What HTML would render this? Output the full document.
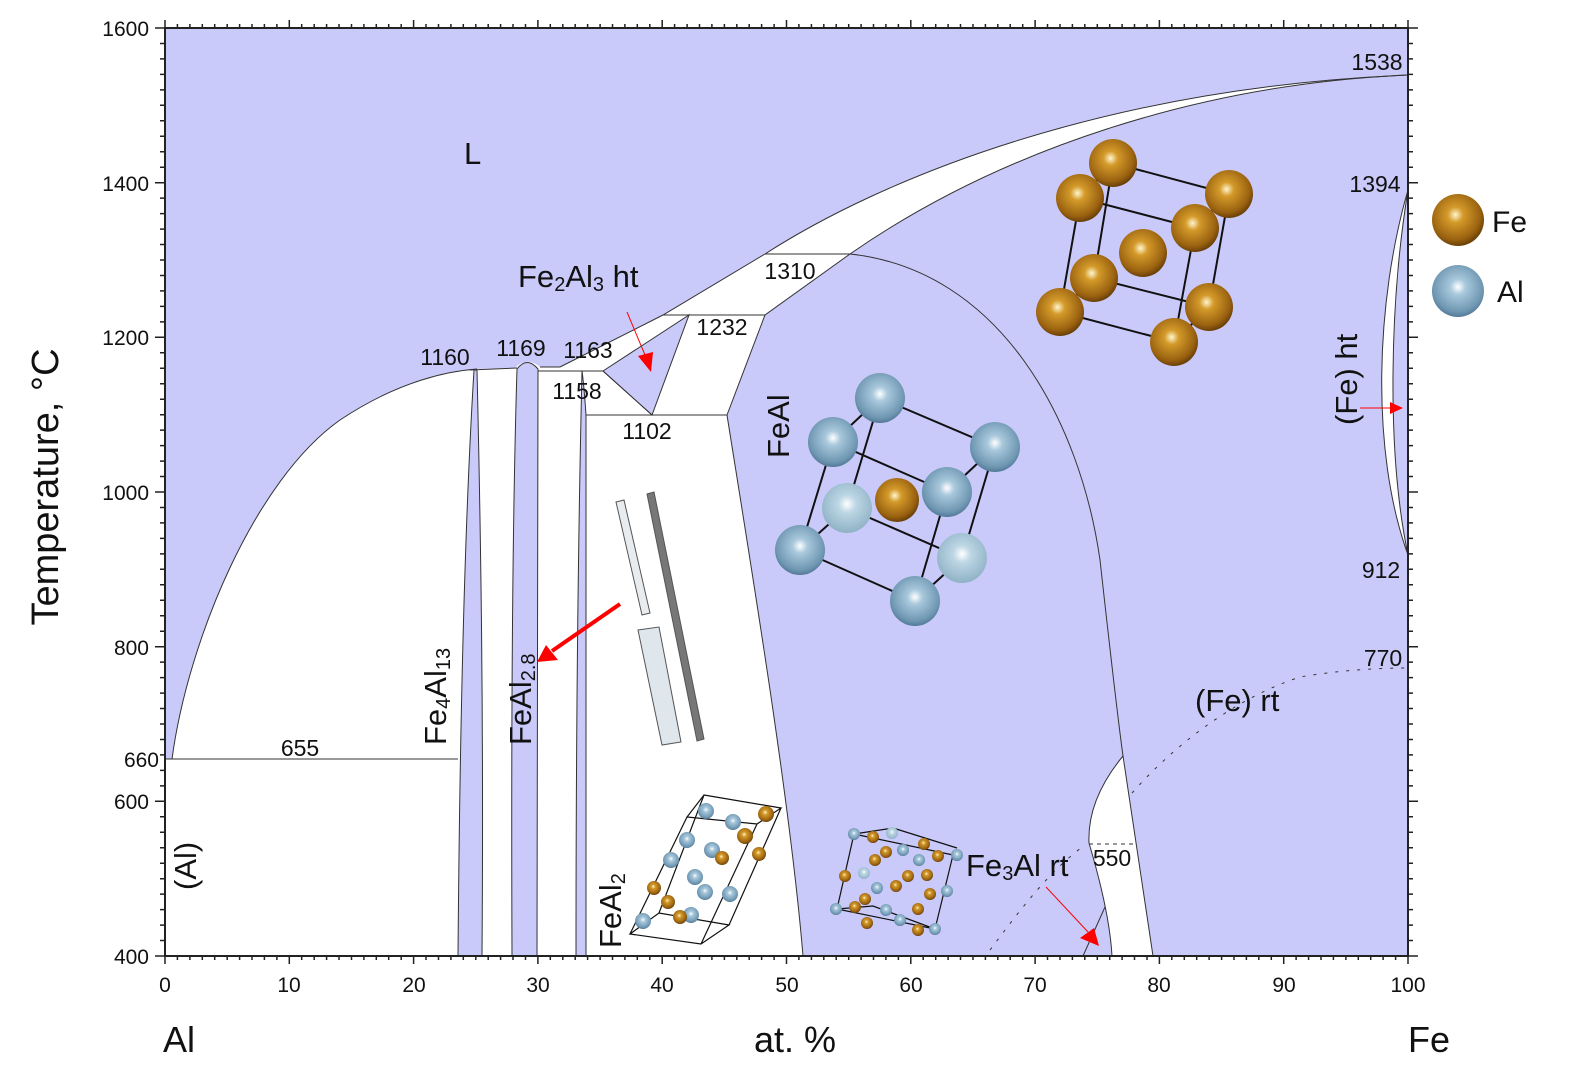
<!DOCTYPE html>
<html><head><meta charset="utf-8"><style>
html,body{margin:0;padding:0;background:#fff;}
svg{display:block;font-family:"Liberation Sans",Arial,sans-serif;}
</style></head><body>
<svg width="1576" height="1072" viewBox="0 0 1576 1072" xmlns="http://www.w3.org/2000/svg">
<defs>
<radialGradient id="fe" cx="0.45" cy="0.4" r="0.6"><stop offset="0" stop-color="#fff6d0"/><stop offset="0.25" stop-color="#d49a2a"/><stop offset="0.8" stop-color="#9a6210"/><stop offset="1" stop-color="#6a4008"/></radialGradient>
<radialGradient id="al" cx="0.5" cy="0.42" r="0.6"><stop offset="0" stop-color="#ffffff"/><stop offset="0.25" stop-color="#a8c8dc"/><stop offset="0.8" stop-color="#6f97b2"/><stop offset="1" stop-color="#4d7390"/></radialGradient>
<radialGradient id="al2" cx="0.5" cy="0.42" r="0.6"><stop offset="0" stop-color="#ffffff"/><stop offset="0.3" stop-color="#bcd6e4"/><stop offset="1" stop-color="#8db0c4"/></radialGradient>
</defs>
<rect x="165" y="28" width="1243" height="928" fill="#cacafa"/>
<path d="M172,759 C188,640 255,480 340,420 C400,380 450,371 477,369 L515,368 Q527,356 540,367 L560,367 L663,315 L765,254 C880,180 1100,88 1408,75 C1200,84 1000,150 850,254 L765,315 L727,415 C750,560 790,800 803,956 L165,956 L165,759 Z" fill="#fff"/>
<path d="M474,370 C466,500 460,700 458,956 L482,956 C484,700 480,500 477,370 Z" fill="#cacafa" stroke="#333" stroke-width="1"/>
<path d="M517,369 C513,500 511,700 512,956 L537,956 L538,369 Q527,356 517,369 Z" fill="#cacafa" stroke="#333" stroke-width="1"/>
<path d="M582,371 C579,500 576,700 576,956 L586,956 L586,415 C585,400 584,385 582,371 Z" fill="#cacafa" stroke="#333" stroke-width="1"/>
<path d="M603,371 L689,315 L652,415 Z" fill="#cacafa" stroke="#333" stroke-width="1"/>
<path d="M1123,756 C1095,790 1088,820 1089,843 C1100,880 1110,920 1112,956 L1153,956 L1123,756 Z" fill="#fff" stroke="#333" stroke-width="1"/>
<path d="M1408,190 C1376,300 1370,450 1408,555 C1386,450 1390,300 1408,190 Z" fill="#fff" stroke="#333" stroke-width="1"/>
<g fill="none" stroke="#333" stroke-width="1">
<path d="M172,759 C188,640 255,480 340,420 C400,380 450,371 477,369"/>
<path d="M560,367 L663,315 L765,254 C880,180 1100,88 1408,75"/>
<path d="M1408,75 C1200,84 1000,150 850,254 L765,315 L727,415 C750,560 790,800 803,956"/>
<path d="M850,254 C1000,270 1080,420 1100,560 C1110,650 1118,720 1123,756"/>
<path d="M165,759 L458,759"/>
<path d="M470,370 L517,368"/>
<path d="M540,367 L560,367"/>
<path d="M538,371 L603,371"/>
<path d="M663,315 L765,315"/>
<path d="M765,254 L850,254"/>
<path d="M586,415 L727,415"/>
<path d="M603,371 L652,415"/>
<path d="M1105,907 L1083,956"/>
<path d="M1089,844 L1134,844" stroke-dasharray="4,4"/>
<path d="M1132,793 C1170,750 1230,700 1300,677 C1340,670 1380,668 1408,668" stroke-dasharray="3,8"/>
<path d="M990,950 C1020,910 1050,870 1085,845" stroke-dasharray="3,8"/>
</g>
<rect x="165" y="28" width="1243" height="928" fill="none" stroke="#222" stroke-width="2"/>
<g stroke="#222" stroke-width="1.5">
<path d="M165.0,956 v8 M165.0,28 v-8 M177.4,956 v4 M177.4,28 v-4 M189.9,956 v4 M189.9,28 v-4 M202.3,956 v4 M202.3,28 v-4 M214.7,956 v4 M214.7,28 v-4 M227.2,956 v4 M227.2,28 v-4 M239.6,956 v4 M239.6,28 v-4 M252.0,956 v4 M252.0,28 v-4 M264.4,956 v4 M264.4,28 v-4 M276.9,956 v4 M276.9,28 v-4 M289.3,956 v8 M289.3,28 v-8 M301.7,956 v4 M301.7,28 v-4 M314.2,956 v4 M314.2,28 v-4 M326.6,956 v4 M326.6,28 v-4 M339.0,956 v4 M339.0,28 v-4 M351.5,956 v4 M351.5,28 v-4 M363.9,956 v4 M363.9,28 v-4 M376.3,956 v4 M376.3,28 v-4 M388.7,956 v4 M388.7,28 v-4 M401.2,956 v4 M401.2,28 v-4 M413.6,956 v8 M413.6,28 v-8 M426.0,956 v4 M426.0,28 v-4 M438.5,956 v4 M438.5,28 v-4 M450.9,956 v4 M450.9,28 v-4 M463.3,956 v4 M463.3,28 v-4 M475.8,956 v4 M475.8,28 v-4 M488.2,956 v4 M488.2,28 v-4 M500.6,956 v4 M500.6,28 v-4 M513.0,956 v4 M513.0,28 v-4 M525.5,956 v4 M525.5,28 v-4 M537.9,956 v8 M537.9,28 v-8 M550.3,956 v4 M550.3,28 v-4 M562.8,956 v4 M562.8,28 v-4 M575.2,956 v4 M575.2,28 v-4 M587.6,956 v4 M587.6,28 v-4 M600.1,956 v4 M600.1,28 v-4 M612.5,956 v4 M612.5,28 v-4 M624.9,956 v4 M624.9,28 v-4 M637.3,956 v4 M637.3,28 v-4 M649.8,956 v4 M649.8,28 v-4 M662.2,956 v8 M662.2,28 v-8 M674.6,956 v4 M674.6,28 v-4 M687.1,956 v4 M687.1,28 v-4 M699.5,956 v4 M699.5,28 v-4 M711.9,956 v4 M711.9,28 v-4 M724.4,956 v4 M724.4,28 v-4 M736.8,956 v4 M736.8,28 v-4 M749.2,956 v4 M749.2,28 v-4 M761.6,956 v4 M761.6,28 v-4 M774.1,956 v4 M774.1,28 v-4 M786.5,956 v8 M786.5,28 v-8 M798.9,956 v4 M798.9,28 v-4 M811.4,956 v4 M811.4,28 v-4 M823.8,956 v4 M823.8,28 v-4 M836.2,956 v4 M836.2,28 v-4 M848.7,956 v4 M848.7,28 v-4 M861.1,956 v4 M861.1,28 v-4 M873.5,956 v4 M873.5,28 v-4 M885.9,956 v4 M885.9,28 v-4 M898.4,956 v4 M898.4,28 v-4 M910.8,956 v8 M910.8,28 v-8 M923.2,956 v4 M923.2,28 v-4 M935.7,956 v4 M935.7,28 v-4 M948.1,956 v4 M948.1,28 v-4 M960.5,956 v4 M960.5,28 v-4 M973.0,956 v4 M973.0,28 v-4 M985.4,956 v4 M985.4,28 v-4 M997.8,956 v4 M997.8,28 v-4 M1010.2,956 v4 M1010.2,28 v-4 M1022.7,956 v4 M1022.7,28 v-4 M1035.1,956 v8 M1035.1,28 v-8 M1047.5,956 v4 M1047.5,28 v-4 M1060.0,956 v4 M1060.0,28 v-4 M1072.4,956 v4 M1072.4,28 v-4 M1084.8,956 v4 M1084.8,28 v-4 M1097.3,956 v4 M1097.3,28 v-4 M1109.7,956 v4 M1109.7,28 v-4 M1122.1,956 v4 M1122.1,28 v-4 M1134.5,956 v4 M1134.5,28 v-4 M1147.0,956 v4 M1147.0,28 v-4 M1159.4,956 v8 M1159.4,28 v-8 M1171.8,956 v4 M1171.8,28 v-4 M1184.3,956 v4 M1184.3,28 v-4 M1196.7,956 v4 M1196.7,28 v-4 M1209.1,956 v4 M1209.1,28 v-4 M1221.6,956 v4 M1221.6,28 v-4 M1234.0,956 v4 M1234.0,28 v-4 M1246.4,956 v4 M1246.4,28 v-4 M1258.8,956 v4 M1258.8,28 v-4 M1271.3,956 v4 M1271.3,28 v-4 M1283.7,956 v8 M1283.7,28 v-8 M1296.1,956 v4 M1296.1,28 v-4 M1308.6,956 v4 M1308.6,28 v-4 M1321.0,956 v4 M1321.0,28 v-4 M1333.4,956 v4 M1333.4,28 v-4 M1345.9,956 v4 M1345.9,28 v-4 M1358.3,956 v4 M1358.3,28 v-4 M1370.7,956 v4 M1370.7,28 v-4 M1383.1,956 v4 M1383.1,28 v-4 M1395.6,956 v4 M1395.6,28 v-4 M1408.0,956 v8 M1408.0,28 v-8"/>
<path d="M165,28 h-10 M1408,28 h10 M165,43.5 h-5 M1408,43.5 h5 M165,58.9 h-5 M1408,58.9 h5 M165,74.4 h-5 M1408,74.4 h5 M165,89.9 h-5 M1408,89.9 h5 M165,105.3 h-5 M1408,105.3 h5 M165,120.8 h-5 M1408,120.8 h5 M165,136.3 h-5 M1408,136.3 h5 M165,151.7 h-5 M1408,151.7 h5 M165,167.2 h-5 M1408,167.2 h5 M165,182.7 h-10 M1408,182.7 h10 M165,198.1 h-5 M1408,198.1 h5 M165,213.6 h-5 M1408,213.6 h5 M165,229.1 h-5 M1408,229.1 h5 M165,244.5 h-5 M1408,244.5 h5 M165,260 h-5 M1408,260 h5 M165,275.5 h-5 M1408,275.5 h5 M165,290.9 h-5 M1408,290.9 h5 M165,306.4 h-5 M1408,306.4 h5 M165,321.9 h-5 M1408,321.9 h5 M165,337.3 h-10 M1408,337.3 h10 M165,352.8 h-5 M1408,352.8 h5 M165,368.3 h-5 M1408,368.3 h5 M165,383.7 h-5 M1408,383.7 h5 M165,399.2 h-5 M1408,399.2 h5 M165,414.7 h-5 M1408,414.7 h5 M165,430.1 h-5 M1408,430.1 h5 M165,445.6 h-5 M1408,445.6 h5 M165,461.1 h-5 M1408,461.1 h5 M165,476.5 h-5 M1408,476.5 h5 M165,492 h-10 M1408,492 h10 M165,507.5 h-5 M1408,507.5 h5 M165,522.9 h-5 M1408,522.9 h5 M165,538.4 h-5 M1408,538.4 h5 M165,553.9 h-5 M1408,553.9 h5 M165,569.3 h-5 M1408,569.3 h5 M165,584.8 h-5 M1408,584.8 h5 M165,600.3 h-5 M1408,600.3 h5 M165,615.7 h-5 M1408,615.7 h5 M165,631.2 h-5 M1408,631.2 h5 M165,646.7 h-10 M1408,646.7 h10 M165,662.1 h-5 M1408,662.1 h5 M165,677.6 h-5 M1408,677.6 h5 M165,693.1 h-5 M1408,693.1 h5 M165,708.5 h-5 M1408,708.5 h5 M165,724 h-5 M1408,724 h5 M165,739.5 h-5 M1408,739.5 h5 M165,754.9 h-5 M1408,754.9 h5 M165,770.4 h-5 M1408,770.4 h5 M165,785.9 h-5 M1408,785.9 h5 M165,801.3 h-10 M1408,801.3 h10 M165,816.8 h-5 M1408,816.8 h5 M165,832.3 h-5 M1408,832.3 h5 M165,847.7 h-5 M1408,847.7 h5 M165,863.2 h-5 M1408,863.2 h5 M165,878.7 h-5 M1408,878.7 h5 M165,894.1 h-5 M1408,894.1 h5 M165,909.6 h-5 M1408,909.6 h5 M165,925.1 h-5 M1408,925.1 h5 M165,940.5 h-5 M1408,940.5 h5 M165,956 h-10 M1408,956 h10"/>
</g>
<g font-size="21" fill="#111" text-anchor="end">
<text x="149" y="36">1600</text><text x="149" y="191">1400</text><text x="149" y="345">1200</text>
<text x="149" y="500">1000</text><text x="149" y="655">800</text><text x="149" y="809">600</text><text x="149" y="964">400</text>
<text x="159" y="767">660</text>
</g>
<g font-size="21" fill="#111" text-anchor="middle">
<text x="165" y="992">0</text><text x="289" y="992">10</text><text x="414" y="992">20</text><text x="538" y="992">30</text>
<text x="662" y="992">40</text><text x="787" y="992">50</text><text x="911" y="992">60</text><text x="1035" y="992">70</text>
<text x="1159" y="992">80</text><text x="1284" y="992">90</text><text x="1408" y="992">100</text>
</g>
<text x="58" y="487" font-size="38" fill="#111" text-anchor="middle" transform="rotate(-90 58 487)">Temperature, °C</text>
<text x="163" y="1052" font-size="36" fill="#111">Al</text>
<text x="795" y="1052" font-size="36" fill="#111" text-anchor="middle">at. %</text>
<text x="1408" y="1052" font-size="36" fill="#111">Fe</text>
<g font-size="23" fill="#111" text-anchor="middle">
<text x="1377" y="70">1538</text><text x="1375" y="192">1394</text><text x="1381" y="578">912</text><text x="1383" y="666">770</text>
<text x="445" y="365">1160</text><text x="521" y="356">1169</text><text x="588" y="358">1163</text><text x="577" y="399">1158</text>
<text x="647" y="439">1102</text><text x="722" y="335">1232</text><text x="790" y="279">1310</text><text x="300" y="756">655</text>
<text x="1112" y="866">550</text>
</g>
<g font-size="31" fill="#111">
<text x="464" y="164">L</text>
<text x="518" y="287">Fe<tspan font-size="20" dy="4">2</tspan><tspan dy="-4">Al</tspan><tspan font-size="20" dy="4">3</tspan><tspan dy="-4"> ht</tspan></text>
<text x="1195" y="711">(Fe) rt</text>
<text x="966" y="876">Fe<tspan font-size="20" dy="4">3</tspan><tspan dy="-4">Al rt</tspan></text>
<text transform="translate(789,458) rotate(-90)">FeAl</text>
<text transform="translate(446,745) rotate(-90)">Fe<tspan font-size="20" dy="4">4</tspan><tspan dy="-4">Al</tspan><tspan font-size="20" dy="4">13</tspan></text>
<text transform="translate(531,745) rotate(-90)">FeAl<tspan font-size="20" dy="4">2.8</tspan></text>
<text transform="translate(621,948) rotate(-90)">FeAl<tspan font-size="20" dy="4">2</tspan></text>
<text transform="translate(196,890) rotate(-90)">(Al)</text>
<text transform="translate(1357,425) rotate(-90)">(Fe) ht</text>
</g>
<g stroke="#f00" fill="#f00">
<line x1="627" y1="312" x2="645" y2="355" stroke-width="1"/><path d="M638,356 L653,352 L651,372 Z" stroke="none"/>
<line x1="620" y1="604" x2="552" y2="651" stroke-width="4"/><path d="M546,645 L558,660 L537,662 Z" stroke="none"/>
<line x1="1046" y1="887" x2="1088" y2="932" stroke-width="1"/><path d="M1080,938 L1094,928 L1099,946 Z" stroke="none"/>
<line x1="1360" y1="408" x2="1392" y2="408" stroke-width="1"/><path d="M1390,402 L1403,408 L1390,414 Z" stroke="none"/>
</g>
<g stroke="#111" stroke-width="2" fill="none">
<path d="M1113,163 L1229,194 L1209,307 L1094,278 Z M1080,198 L1195,228 L1174,342 L1060,312 Z M1113,163 L1080,198 M1229,194 L1195,228 M1209,307 L1174,342 M1094,278 L1060,312"/>
</g>
<g>
<circle cx="1113" cy="163" r="24" fill="url(#fe)"/><circle cx="1229" cy="194" r="24" fill="url(#fe)"/>
<circle cx="1094" cy="278" r="24" fill="url(#fe)"/><circle cx="1209" cy="307" r="24" fill="url(#fe)"/>
<circle cx="1143" cy="253" r="24" fill="url(#fe)"/>
<circle cx="1080" cy="198" r="24" fill="url(#fe)"/><circle cx="1195" cy="228" r="24" fill="url(#fe)"/>
<circle cx="1060" cy="312" r="24" fill="url(#fe)"/><circle cx="1174" cy="342" r="24" fill="url(#fe)"/>
</g>
<g stroke="#111" stroke-width="2" fill="none">
<path d="M880,398 L995,447 L962,558 L847,508 Z M833,442 L947,492 L915,601 L800,550 Z M880,398 L833,442 M995,447 L947,492 M962,558 L915,601 M847,508 L800,550"/>
</g>
<circle cx="880" cy="398" r="25" fill="url(#al)"/><circle cx="995" cy="447" r="25" fill="url(#al)"/>
<circle cx="847" cy="508" r="25" fill="url(#al2)"/><circle cx="962" cy="558" r="25" fill="url(#al2)"/>
<circle cx="897" cy="500" r="22" fill="url(#fe)"/>
<circle cx="833" cy="442" r="25" fill="url(#al)"/><circle cx="947" cy="492" r="25" fill="url(#al)"/>
<circle cx="800" cy="550" r="25" fill="url(#al)"/><circle cx="915" cy="601" r="25" fill="url(#al)"/>
<g stroke="#555" stroke-width="1">
<polygon points="616,502 624,500 650,613 642,615" fill="#e8ecef"/>
<polygon points="647,494 654,492 704,739 697,741" fill="#777"/>
<polygon points="638,630 659,627 681,742 662,745" fill="#dfe6ec"/>
</g>
<g stroke="#111" stroke-width="1.2" fill="none">
<path d="M704,795 L781,808 L757,824 L687,817 Z M630,934 L701,944 L729,925 L659,913 Z M704,795 L659,913 M781,808 L729,925 M757,824 L701,944 M687,817 L630,934"/>
</g>
<g>
<circle cx="706" cy="811" r="8" fill="url(#al)"/><circle cx="733" cy="822" r="8" fill="url(#al)"/><circle cx="766" cy="814" r="8" fill="url(#fe)"/>
<circle cx="687" cy="840" r="8" fill="url(#al)"/><circle cx="745" cy="836" r="8" fill="url(#fe)"/><circle cx="712" cy="850" r="8" fill="url(#al)"/>
<circle cx="722" cy="858" r="7" fill="url(#fe)"/><circle cx="671" cy="860" r="8" fill="url(#al)"/><circle cx="759" cy="854" r="7" fill="url(#fe)"/>
<circle cx="695" cy="877" r="8" fill="url(#al)"/><circle cx="705" cy="892" r="8" fill="url(#al)"/><circle cx="654" cy="888" r="7" fill="url(#fe)"/>
<circle cx="730" cy="894" r="8" fill="url(#al)"/><circle cx="668" cy="902" r="7" fill="url(#fe)"/><circle cx="691" cy="915" r="8" fill="url(#al)"/>
<circle cx="680" cy="917" r="7" fill="url(#fe)"/><circle cx="643" cy="921" r="8" fill="url(#al)"/>
</g>
<g stroke="#111" stroke-width="1.2" fill="none">
<path d="M854,834 L953,855 L935,929 L837,909 Z M893,828 L957,848 M854,834 L893,828 M837,909 L873,906 L935,929"/>
</g>
<g>
<circle cx="854" cy="834" r="6" fill="url(#al)"/><circle cx="873" cy="837" r="6" fill="url(#fe)"/><circle cx="892" cy="833" r="6" fill="url(#al2)"/>
<circle cx="924" cy="844" r="6" fill="url(#fe)"/><circle cx="903" cy="850" r="6" fill="url(#al)"/><circle cx="886" cy="852" r="6" fill="url(#fe)"/>
<circle cx="875" cy="860" r="6" fill="url(#fe)"/><circle cx="919" cy="860" r="6" fill="url(#al)"/><circle cx="938" cy="856" r="6" fill="url(#fe)"/>
<circle cx="957" cy="855" r="6" fill="url(#al)"/><circle cx="845" cy="876" r="6" fill="url(#fe)"/><circle cx="864" cy="873" r="6" fill="url(#al2)"/>
<circle cx="908" cy="876" r="6" fill="url(#fe)"/><circle cx="927" cy="875" r="6" fill="url(#fe)"/><circle cx="877" cy="888" r="6" fill="url(#al)"/>
<circle cx="896" cy="886" r="6" fill="url(#fe)"/><circle cx="930" cy="894" r="6" fill="url(#fe)"/><circle cx="947" cy="891" r="6" fill="url(#al)"/>
<circle cx="865" cy="899" r="6" fill="url(#fe)"/><circle cx="836" cy="909" r="6" fill="url(#al)"/><circle cx="855" cy="907" r="6" fill="url(#fe)"/>
<circle cx="886" cy="910" r="6" fill="url(#al)"/><circle cx="918" cy="909" r="6" fill="url(#fe)"/><circle cx="867" cy="923" r="6" fill="url(#fe)"/>
<circle cx="900" cy="920" r="6" fill="url(#al)"/><circle cx="935" cy="929" r="6" fill="url(#al)"/><circle cx="918" cy="930" r="6" fill="url(#fe)"/>
</g>
<circle cx="1458" cy="220" r="26" fill="url(#fe)"/>
<circle cx="1458" cy="291" r="26" fill="url(#al)"/>
<text x="1492" y="232" font-size="30" fill="#111">Fe</text>
<text x="1497" y="302" font-size="30" fill="#111">Al</text>
</svg>
</body></html>
